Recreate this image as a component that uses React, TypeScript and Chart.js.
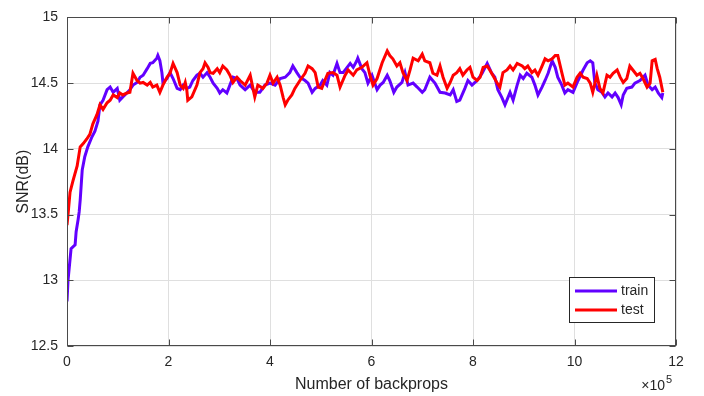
import React, { useEffect, useRef } from "react";
import { Chart, registerables } from "chart.js";

Chart.register(...registerables);

const trainX = [0,0.02,0.08,0.16,0.18,0.22,0.24,0.26,0.30,0.35,0.41,0.49,0.55,0.61,0.65,0.71,0.79,0.85,0.91,0.99,1.04,1.10,1.18,1.24,1.30,1.38,1.44,1.50,1.58,1.64,1.69,1.77,1.79,1.83,1.87,1.89,1.97,2.03,2.09,2.17,2.23,2.29,2.36,2.42,2.48,2.56,2.62,2.68,2.76,2.82,2.88,2.96,3.01,3.07,3.15,3.21,3.27,3.35,3.41,3.51,3.61,3.70,3.80,3.90,4.00,4.10,4.20,4.30,4.39,4.45,4.53,4.59,4.69,4.75,4.83,4.89,4.99,5.04,5.12,5.18,5.24,5.32,5.38,5.44,5.52,5.58,5.64,5.71,5.73,5.81,5.87,5.93,6.01,6.11,6.17,6.23,6.31,6.36,6.44,6.50,6.60,6.66,6.72,6.82,6.90,7.00,7.05,7.15,7.25,7.35,7.45,7.55,7.61,7.68,7.74,7.84,7.90,7.98,8.08,8.18,8.28,8.37,8.43,8.49,8.57,8.63,8.73,8.79,8.87,8.93,8.99,9.06,9.16,9.22,9.28,9.36,9.42,9.48,9.56,9.62,9.67,9.75,9.81,9.87,9.97,10.07,10.17,10.25,10.31,10.36,10.40,10.46,10.54,10.60,10.66,10.74,10.80,10.86,10.92,10.96,11.03,11.13,11.19,11.29,11.39,11.45,11.53,11.59,11.65,11.72,11.74];
const trainY = [12.84,13.00,13.24,13.27,13.37,13.465,13.52,13.61,13.84,13.94,14.015,14.09,14.135,14.21,14.335,14.37,14.45,14.47,14.43,14.46,14.37,14.395,14.425,14.45,14.485,14.505,14.545,14.56,14.61,14.65,14.655,14.69,14.71,14.67,14.58,14.505,14.535,14.58,14.535,14.46,14.45,14.485,14.46,14.47,14.52,14.56,14.575,14.545,14.58,14.545,14.50,14.46,14.425,14.45,14.425,14.485,14.545,14.535,14.485,14.45,14.485,14.43,14.43,14.485,14.50,14.485,14.535,14.545,14.58,14.63,14.58,14.545,14.52,14.50,14.43,14.46,14.485,14.52,14.485,14.58,14.56,14.65,14.58,14.58,14.62,14.65,14.62,14.67,14.69,14.61,14.58,14.50,14.56,14.45,14.485,14.505,14.56,14.52,14.43,14.47,14.505,14.58,14.485,14.50,14.47,14.43,14.45,14.545,14.50,14.43,14.425,14.41,14.45,14.36,14.37,14.46,14.52,14.485,14.52,14.575,14.65,14.575,14.545,14.45,14.39,14.335,14.43,14.37,14.485,14.56,14.535,14.575,14.545,14.485,14.41,14.47,14.52,14.575,14.67,14.62,14.545,14.485,14.425,14.45,14.43,14.52,14.60,14.655,14.67,14.655,14.505,14.45,14.43,14.395,14.425,14.395,14.425,14.39,14.335,14.41,14.46,14.47,14.50,14.52,14.56,14.485,14.45,14.47,14.425,14.39,14.425];

const testX = [0,0.02,0.06,0.12,0.20,0.26,0.32,0.39,0.45,0.51,0.59,0.65,0.71,0.79,0.85,0.91,0.99,1.04,1.10,1.18,1.24,1.30,1.38,1.44,1.50,1.58,1.64,1.69,1.77,1.83,1.89,1.97,2.03,2.09,2.17,2.23,2.29,2.33,2.36,2.38,2.46,2.56,2.62,2.68,2.72,2.78,2.82,2.88,2.96,3.01,3.07,3.15,3.21,3.27,3.35,3.41,3.51,3.61,3.70,3.76,3.86,3.94,4.00,4.06,4.14,4.20,4.26,4.30,4.35,4.43,4.49,4.59,4.69,4.75,4.83,4.89,4.95,5.02,5.08,5.14,5.24,5.32,5.38,5.48,5.54,5.64,5.71,5.81,5.91,5.97,6.03,6.11,6.21,6.31,6.36,6.42,6.50,6.56,6.62,6.70,6.76,6.82,6.92,7.00,7.05,7.15,7.21,7.29,7.35,7.41,7.49,7.55,7.61,7.68,7.74,7.80,7.88,7.94,8.00,8.08,8.14,8.20,8.28,8.33,8.39,8.47,8.53,8.59,8.67,8.73,8.79,8.87,8.97,9.02,9.08,9.16,9.22,9.28,9.36,9.42,9.48,9.56,9.62,9.67,9.75,9.81,9.87,9.97,10.05,10.11,10.17,10.25,10.31,10.36,10.44,10.50,10.56,10.64,10.70,10.76,10.84,10.90,10.96,11.03,11.09,11.15,11.23,11.29,11.35,11.43,11.49,11.53,11.59,11.63,11.68,11.74];
const testY = [13.42,13.50,13.67,13.76,13.87,14.015,14.04,14.075,14.11,14.19,14.26,14.335,14.30,14.35,14.37,14.41,14.39,14.425,14.41,14.425,14.43,14.575,14.52,14.50,14.505,14.485,14.505,14.47,14.485,14.43,14.485,14.545,14.575,14.65,14.58,14.485,14.46,14.505,14.45,14.37,14.395,14.485,14.58,14.61,14.655,14.62,14.58,14.575,14.61,14.58,14.63,14.60,14.56,14.505,14.545,14.52,14.485,14.56,14.395,14.485,14.46,14.50,14.56,14.50,14.545,14.485,14.39,14.335,14.37,14.41,14.46,14.52,14.575,14.63,14.61,14.58,14.47,14.46,14.52,14.575,14.58,14.56,14.47,14.56,14.60,14.56,14.60,14.62,14.655,14.56,14.485,14.535,14.655,14.745,14.71,14.685,14.63,14.655,14.58,14.52,14.60,14.69,14.67,14.72,14.67,14.655,14.575,14.56,14.63,14.545,14.46,14.505,14.56,14.58,14.61,14.56,14.60,14.62,14.545,14.52,14.545,14.62,14.63,14.60,14.56,14.505,14.47,14.58,14.60,14.63,14.60,14.65,14.63,14.61,14.63,14.58,14.60,14.56,14.63,14.685,14.67,14.685,14.71,14.71,14.58,14.485,14.50,14.47,14.545,14.575,14.545,14.535,14.50,14.43,14.56,14.46,14.425,14.56,14.545,14.575,14.60,14.545,14.505,14.535,14.63,14.60,14.56,14.575,14.535,14.47,14.50,14.67,14.68,14.61,14.545,14.43];

const xTicks = [0, 2, 4, 6, 8, 10, 12];
const yTicks = [12.5, 13, 13.5, 14, 14.5, 15];
const xTickLabels = ["0", "2", "4", "6", "8", "10", "12"];
const yTickLabels = ["12.5", "13", "13.5", "14", "14.5", "15"];
const seriesNames = ["train", "test"];
const xTitle = "Number of backprops";
const yTitle = "SNR(dB)";
const xExponent = "5";

const TRAIN_COLOR = "#6200ff";
const TEST_COLOR = "#ff0000";
const TEXT = "#262626";
const FONT = "'Liberation Sans', Arial, Helvetica, sans-serif";

const framePlugin = {
  id: "matlabFrame",
  beforeDraw(chart: any) {
    const ctx = chart.ctx;
    ctx.save();
    ctx.fillStyle = "#ffffff";
    ctx.fillRect(0, 0, chart.width, chart.height);
    ctx.restore();
  },
  afterDraw(chart: any) {
    const ctx = chart.ctx;
    const { left, right, top, bottom } = chart.chartArea;
    const xs = chart.scales.x;
    const ys = chart.scales.y;
    ctx.save();
    ctx.strokeStyle = "#4a4a4a";
    ctx.lineWidth = 1;
    const L = Math.round(left) + 0.5;
    const R = Math.round(right) - 0.5;
    const T = Math.round(top) + 0.5;
    const B = Math.round(bottom) - 0.5;
    ctx.strokeRect(L, T, R - L, B - T);
    const tl = 6;
    ctx.beginPath();
    xTicks.forEach((v) => {
      const p = Math.round(xs.getPixelForValue(v)) + 0.5;
      ctx.moveTo(p, B);
      ctx.lineTo(p, B - tl);
      ctx.moveTo(p, T);
      ctx.lineTo(p, T + tl);
    });
    yTicks.forEach((v) => {
      const p = Math.round(ys.getPixelForValue(v)) + 0.5;
      ctx.moveTo(L, p);
      ctx.lineTo(L + tl, p);
      ctx.moveTo(R, p);
      ctx.lineTo(R - tl, p);
    });
    ctx.stroke();

    // axis titles
    ctx.fillStyle = TEXT;
    ctx.font = `16px ${FONT}`;
    ctx.textAlign = "center";
    ctx.textBaseline = "alphabetic";
    ctx.fillText(xTitle, (left + right) / 2, 389);
    ctx.save();
    ctx.translate(28, (top + bottom) / 2);
    ctx.rotate(-Math.PI / 2);
    ctx.fillText(yTitle, 0, 0);
    ctx.restore();

    // exponent
    ctx.font = `14px ${FONT}`;
    ctx.textAlign = "right";
    ctx.fillText("\u00d710", 665, 390);
    ctx.font = `11px ${FONT}`;
    ctx.textAlign = "left";
    ctx.fillText(xExponent, 666, 383);

    // legend
    const bx = 569.5, by = 277.5, bw = 85, bh = 45;
    ctx.fillStyle = "#ffffff";
    ctx.fillRect(bx, by, bw, bh);
    ctx.strokeStyle = "#262626";
    ctx.lineWidth = 1;
    ctx.strokeRect(bx, by, bw, bh);
    const colors = [TRAIN_COLOR, TEST_COLOR];
    const rows = [291, 310];
    seriesNames.forEach((name, i) => {
      ctx.strokeStyle = colors[i];
      ctx.lineWidth = 3;
      ctx.beginPath();
      ctx.moveTo(575, rows[i]);
      ctx.lineTo(617, rows[i]);
      ctx.stroke();
      ctx.fillStyle = TEXT;
      ctx.font = `14px ${FONT}`;
      ctx.textAlign = "left";
      ctx.textBaseline = "middle";
      ctx.fillText(name, 621, rows[i]);
    });
    ctx.restore();
  },
};

export default function App() {
  const ref = useRef<HTMLCanvasElement | null>(null);
  useEffect(() => {
    if (!ref.current) return;
    const chart = new Chart(ref.current, {
      type: "line",
      data: {
        datasets: [
          {
            label: seriesNames[0],
            data: trainX.map((x, i) => ({ x, y: trainY[i] })),
            borderColor: TRAIN_COLOR,
            backgroundColor: TRAIN_COLOR,
            borderWidth: 3,
            pointRadius: 0,
            tension: 0,
            order: 1,
          },
          {
            label: seriesNames[1],
            data: testX.map((x, i) => ({ x, y: testY[i] })),
            borderColor: TEST_COLOR,
            backgroundColor: TEST_COLOR,
            borderWidth: 3,
            pointRadius: 0,
            tension: 0,
            order: 0,
          },
        ],
      },
      options: {
        animation: false,
        responsive: false,
        devicePixelRatio: 1,
        layout: { padding: { top: 11, right: 28, left: 0, bottom: 0 } },
        plugins: { legend: { display: false }, tooltip: { enabled: false }, title: { display: false } },
        scales: {
          x: {
            type: "linear",
            min: 0,
            max: 12,
            afterBuildTicks: (s: any) => { s.ticks = xTicks.map((v) => ({ value: v })); },
            afterFit: (s: any) => { s.height = 50; },
            grid: { color: "#dfdfdf", drawTicks: false },
            border: { display: false },
            ticks: {
              color: TEXT,
              font: { family: FONT, size: 14 },
              padding: 8,
              maxRotation: 0,
              callback: (v: any) => { const i = xTicks.indexOf(Number(v)); return i >= 0 ? xTickLabels[i] : ""; },
            },
          },
          y: {
            type: "linear",
            min: 12.5,
            max: 15,
            afterBuildTicks: (s: any) => { s.ticks = yTicks.map((v) => ({ value: v })); },
            afterFit: (s: any) => { s.width = 67; },
            grid: { color: "#dfdfdf", drawTicks: false },
            border: { display: false },
            ticks: {
              color: TEXT,
              font: { family: FONT, size: 14 },
              padding: 9,
              callback: (v: any) => { const i = yTicks.indexOf(Number(v)); return i >= 0 ? yTickLabels[i] : ""; },
            },
          },
        },
      },
      plugins: [framePlugin],
    });
    return () => chart.destroy();
  }, []);
  return (
    <div style={{ position: "absolute", left: 0, top: 0, width: 704, height: 396, background: "#fff" }}>
      <canvas ref={ref} width={704} height={396} style={{ width: 704, height: 396, display: "block" }} />
    </div>
  );
}
